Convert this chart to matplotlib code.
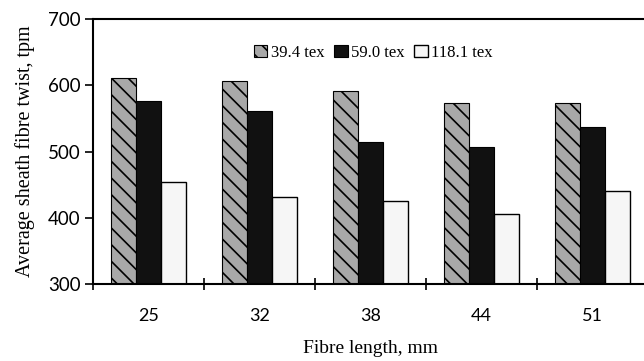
import numpy as np
import matplotlib.pyplot as plt

# data
fibre_length = ["25", "32", "38", "44", "51"]
tex_39 = [611, 606, 591, 573, 573]
tex_59 = [576, 561, 515, 507, 537]
tex_118 = [454, 432, 426, 406, 441]
series_names = ["39.4 tex", "59.0 tex", "118.1 tex"]

plt.rcParams['hatch.linewidth'] = 1.2

fig = plt.figure(figsize=(6.44, 3.61), dpi=100)
ax = fig.add_axes([0.1444, 0.2133, 0.862, 0.734])

x = np.arange(len(fibre_length))
w = 0.225
ax.bar(x - w, np.array(tex_39) - 300, w, bottom=300, color="#a8a8a8",
       edgecolor="black", hatch="\\\\", linewidth=0.8, label=series_names[0])
ax.bar(x, np.array(tex_59) - 300, w, bottom=300, color="#111111",
       edgecolor="black", linewidth=0.8, label=series_names[1])
ax.bar(x + w, np.array(tex_118) - 300, w, bottom=300, color="#f6f6f6",
       edgecolor="black", linewidth=1.0, label=series_names[2])

ax.set_xlim(-0.5, 4.5)
ax.set_ylim(300, 700)
ax.set_yticks([300, 400, 500, 600, 700])
ax.set_xticks(x)
ax.set_xticklabels(fibre_length)
ax.set_xticks(np.arange(-0.5, 5, 1), minor=True)
ax.tick_params(axis='x', which='major', length=0, pad=17, labelsize=13)
ax.tick_params(axis='x', which='minor', direction='inout', length=8, width=1.2)
ax.tick_params(axis='y', direction='out', length=6, width=1.2, labelsize=13.5, pad=3)
for lab in ax.get_xticklabels() + ax.get_yticklabels():
    lab.set_fontfamily("Lato")

for s in ["left", "bottom", "top"]:
    ax.spines[s].set_linewidth(1.5)
ax.spines["right"].set_visible(False)

ax.set_ylabel("Average sheath fibre twist, tpm", fontsize=14.5,
              fontfamily="Liberation Serif", labelpad=9)
ax.set_xlabel("Fibre length, mm", fontsize=14, fontfamily="Liberation Serif",
              labelpad=12)

ax.legend(loc="upper center", bbox_to_anchor=(0.505, 0.96), ncol=3, frameon=False,
          prop={"family": "Liberation Serif", "size": 12},
          handlelength=0.8, handleheight=0.8, handletextpad=0.2, columnspacing=0.6)

plt.savefig("out.png", dpi=100)
